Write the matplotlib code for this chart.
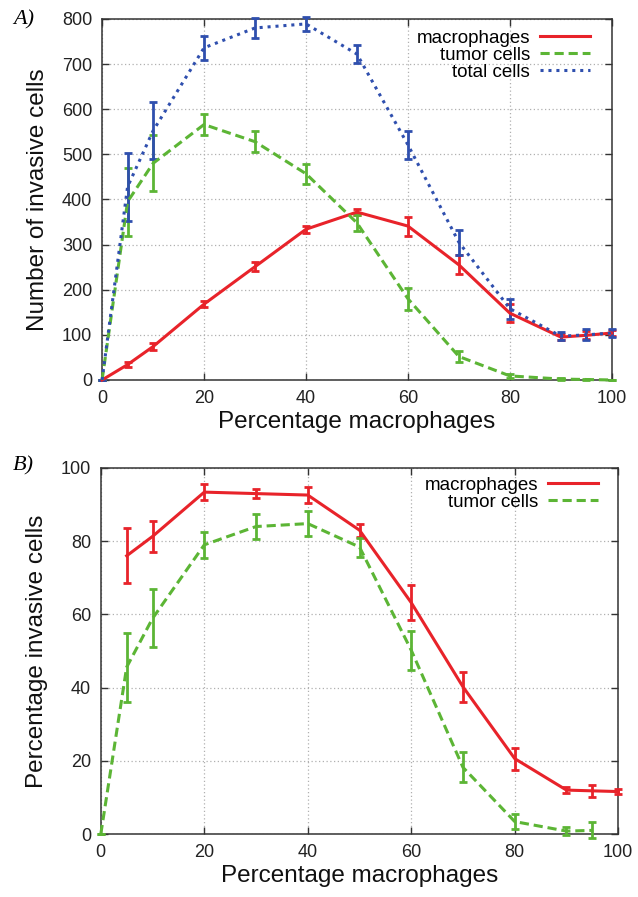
import numpy as np
import matplotlib
matplotlib.use('Agg')
import matplotlib.pyplot as plt

# panel A: number of invasive cells
pct_a = [0, 5, 10, 20, 30, 40, 50, 60, 70, 80, 90, 95, 100]
mac_a = [0, 34, 74, 168, 251, 334, 372, 341, 255, 148, 95, 99, 104]
mac_a_err = [0, 5, 7, 7, 10, 8, 7, 21, 21, 20, 7, 9, 7]
tum_a = [0, 395, 480, 566, 528, 457, 348, 180, 52, 9, 2, 1, 0]
tum_a_err = [0, 75, 62, 24, 23, 22, 18, 24, 13, 5, 2, 1, 1]
tot_a = [0, 428, 552, 736, 780, 789, 722, 521, 305, 158, 97, 100, 104]
tot_a_err = [0, 75, 63, 27, 22, 15, 20, 31, 27, 22, 9, 12, 8]

# panel B: percentage invasive cells
pct_b_mac = [5, 10, 20, 30, 40, 50, 60, 70, 80, 90, 95, 100]
mac_b = [76.0, 81.3, 93.4, 93.0, 92.6, 83.0, 63.2, 40.2, 20.6, 12.0, 11.8, 11.6]
mac_b_err = [7.5, 4.3, 2.2, 1.2, 2.2, 1.8, 4.8, 4.0, 3.0, 0.8, 1.6, 0.8]
pct_b_tum = [0, 5, 10, 20, 30, 40, 50, 60, 70, 80, 90, 95]
tum_b = [0, 45.6, 58.9, 79.0, 84.0, 84.8, 78.4, 50.2, 18.2, 3.4, 0.8, 1.0]
tum_b_err = [0, 9.4, 7.9, 3.5, 3.4, 3.5, 2.6, 5.3, 4.1, 2.0, 1.0, 2.2]

RED = '#e8232a'
GREEN = '#5cb535'
BLUE = '#2f4fae'

plt.rcParams['font.family'] = ['Liberation Sans', 'DejaVu Sans']

fig = plt.figure(figsize=(6.38, 8.97), dpi=100)
ax_a = fig.add_axes([0.160, 0.5764, 0.799, 0.4025])
ax_b = fig.add_axes([0.158, 0.0702, 0.811, 0.4081])

def style_axes(ax, ymax, ystep, ylabel):
    ax.set_xlim(0, 100)
    ax.set_ylim(0, ymax)
    ax.set_xticks(np.arange(0, 101, 20))
    ax.set_yticks(np.arange(0, ymax + 1, ystep))
    ax.grid(True, color='#b0b0b0', linestyle=(0, (1, 2)), linewidth=0.9)
    ax.set_axisbelow(True)
    ax.tick_params(direction='in', top=True, right=True, labeltop=False,
                   labelright=False, length=5, width=1, labelsize=13,
                   colors='#333333', labelcolor='#222222', pad=7)
    for s in ax.spines.values():
        s.set_color('#333333')
        s.set_linewidth(1.1)
    ax.set_xlabel('Percentage macrophages', fontsize=17.5, labelpad=3,
                  color='#111111')
    ax.set_ylabel(ylabel, fontsize=17.5, labelpad=9, color='#111111')

def err_line(ax, x, y, e, color, ls, label):
    ax.errorbar(x, y, yerr=e, color=color, linestyle=ls, linewidth=2.2,
                elinewidth=2.0, capsize=3, capthick=2.0, label=label,
                clip_on=False, zorder=3)

err_line(ax_a, pct_a, mac_a, mac_a_err, RED, '-', 'macrophages')
err_line(ax_a, pct_a, tum_a, tum_a_err, GREEN, (0, (3, 1.6)), 'tumor cells')
err_line(ax_a, pct_a, tot_a, tot_a_err, BLUE, (0, (1, 1.6)), 'total cells')
style_axes(ax_a, 800, 100, 'Number of invasive cells')

err_line(ax_b, pct_b_mac, mac_b, mac_b_err, RED, '-', 'macrophages')
err_line(ax_b, pct_b_tum, tum_b, tum_b_err, GREEN, (0, (3, 1.6)), 'tumor cells')
style_axes(ax_b, 100, 20, 'Percentage invasive cells')

# gnuplot-style key: text first, sample line after it (rows right-aligned)
for ax, anchor in ((ax_a, (0.957, 0.971)), (ax_b, (0.961, 0.977))):
    handles, labels = ax.get_legend_handles_labels()
    handles = [h[0] for h in handles]
    ax.legend(handles, labels, loc='upper right', frameon=False,
              fontsize=13.5, markerfirst=False, handlelength=2.67,
              handletextpad=0.53, labelspacing=0.0, borderaxespad=0,
              borderpad=0, bbox_to_anchor=anchor)

fig.text(0.02, 0.978, 'A)', fontsize=16, style='italic',
         family='Liberation Serif', va='center')
fig.text(0.02, 0.481, 'B)', fontsize=16, style='italic',
         family='Liberation Serif', va='center')

fig.savefig('out.png', dpi=100)
